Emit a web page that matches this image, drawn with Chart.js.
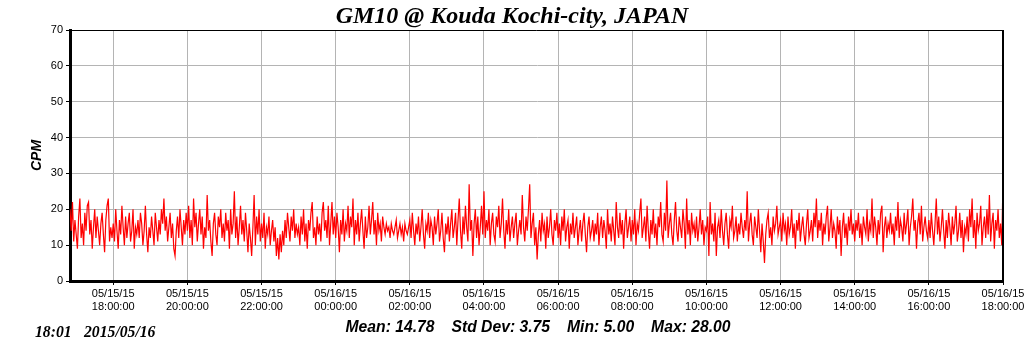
<!DOCTYPE html>
<html>
<head>
<meta charset="utf-8">
<script src="https://cdn.jsdelivr.net/npm/chart.js@4/dist/chart.umd.min.js"></script>
<style>
html,body{margin:0;padding:0;background:#fff;}
#wrap{width:1024px;height:351px;}
</style>
</head>
<body>
<div id="wrap"><canvas id="c" width="1024" height="351"></canvas></div>
<script>
// ---- data (GM10 counts per minute, sampled every 2 minutes from 05/15/15 16:50) ----
const startLabel = "05/15/15 16:50";
const sampleMinutes = 2;
const counts = [
20,14,22,11,17,
13,9,18,23,12,16,10,19,14,21,22,13,17,9,15,20,12,18,14,10,16,19,13,8,17,21,23,11,15,12,
16,11,20,14,9,17,13,21,15,10,18,12,16,19,11,14,20,9,15,13,17,12,19,16,10,14,21,13,8,15,
12,18,14,10,19,15,11,17,13,20,16,23,14,18,11,15,19,12,16,9,7,14,18,12,20,15,10,17,13,19,
14,21,12,17,10,23,15,19,11,16,20,13,18,9,15,12,24,14,17,11,7,16,19,13,10,18,15,20,12,16,
11,19,14,17,9,20,13,16,25,12,18,10,15,21,13,17,11,19,14,8,16,12,7,15,24,10,18,13,20,11,
16,12,19,9,15,13,18,10,14,17,11,15,7,12,6,13,8,14,10,17,12,19,15,11,18,14,20,12,16,13,
15,10,18,13,20,11,16,9,17,14,19,22,12,15,10,18,13,16,11,19,22,14,17,12,21,10,16,22,13,18,
12,19,15,8,17,13,20,11,16,14,21,12,18,15,23,10,17,13,19,11,16,20,14,9,18,12,15,21,13,17,
22,13,17,10,19,14,16,11,18,15,13,16,14,15,12,16,14,13,15,17,12,14,16,13,15,11,16,14,13,15,
17,12,19,14,10,16,13,18,11,15,20,13,9,16,14,19,12,17,15,10,18,13,16,20,11,14,19,12,8,16,
13,18,11,16,20,12,15,19,10,17,23,14,9,18,13,21,15,11,27,14,17,7,16,20,12,18,10,15,21,13,
25,12,17,14,20,10,16,19,13,11,18,15,21,12,16,23,14,9,17,13,20,11,15,18,12,16,19,10,14,17,
13,24,15,11,18,14,20,27,12,16,19,10,15,6,13,17,11,19,14,16,9,18,12,15,20,13,10,17,14,19,
12,16,10,18,14,20,11,15,17,9,16,13,19,12,15,18,10,14,17,11,16,19,13,8,15,18,12,14,17,11,
16,13,19,10,15,18,12,17,14,9,20,13,16,11,18,14,10,22,15,12,19,13,17,9,16,20,12,15,18,11,
17,13,20,10,16,14,19,23,12,15,18,11,21,14,9,17,13,20,12,16,10,18,15,22,13,11,19,14,28,12,
16,19,13,10,17,22,14,11,18,15,12,20,16,9,23,13,17,10,19,14,16,12,18,11,15,20,13,17,10,15,
14,18,7,22,13,16,11,19,7,15,17,12,20,14,10,16,19,13,9,17,15,21,12,14,18,11,16,13,19,15,
12,17,14,25,11,16,19,13,10,18,15,12,20,14,8,16,11,5,13,17,19,12,15,10,18,14,16,21,13,15,
17,11,19,14,16,10,18,13,15,20,12,16,9,17,14,19,11,15,18,13,10,16,20,12,14,17,11,19,15,23,
12,17,14,19,10,16,13,18,21,11,15,20,12,16,14,9,18,13,17,7,15,19,12,16,10,18,14,20,13,16,
11,17,14,19,12,16,10,18,15,13,20,11,16,14,23,12,18,15,10,17,13,19,21,8,15,18,12,16,14,19,
13,16,10,18,14,22,12,17,15,11,19,13,16,20,10,15,18,23,14,17,9,16,19,13,21,11,15,18,14,12,
17,12,19,14,10,16,23,13,18,11,15,20,14,9,17,12,19,15,10,18,13,16,21,11,14,19,12,17,8,15,
13,18,11,20,15,23,12,17,9,19,14,16,21,10,15,18,12,20,13,24,11,16,19,9,17,14,20,12,16,10,
28
];
const tickMinutes = [70,190,310,430,550,670,790,910,1030,1150,1270,1390,1510];
const tickLabels = [
  ["05/15/15","18:00:00"],["05/15/15","20:00:00"],["05/15/15","22:00:00"],
  ["05/16/15","00:00:00"],["05/16/15","02:00:00"],["05/16/15","04:00:00"],
  ["05/16/15","06:00:00"],["05/16/15","08:00:00"],["05/16/15","10:00:00"],
  ["05/16/15","12:00:00"],["05/16/15","14:00:00"],["05/16/15","16:00:00"],
  ["05/16/15","18:00:00"]
];
const yTicks = [0,10,20,30,40,50,60,70];
const titleText = "GM10 @ Kouda Kochi-city, JAPAN";
const yTitle = "CPM";
const statsParts = ["Mean: 14.78","Std Dev: 3.75","Min: 5.00","Max: 28.00"];
const stampParts = ["18:01","2015/05/16"];

const points = counts.map((v,i)=>({x:i*sampleMinutes,y:v}));
const xMax = (counts.length-1)*sampleMinutes;

const textPlugin = {
  id:'texts',
  afterDraw(chart){
    const ctx = chart.ctx, a = chart.chartArea;
    ctx.save();
    // frame top/right
    ctx.strokeStyle='#000';
    ctx.lineWidth=1;
    ctx.beginPath(); ctx.moveTo(a.left, a.top+0.5); ctx.lineTo(a.right, a.top+0.5); ctx.stroke();
    ctx.lineWidth=2;
    ctx.beginPath(); ctx.moveTo(a.right, a.top); ctx.lineTo(a.right, a.bottom); ctx.stroke();
    // title
    ctx.fillStyle='#000';
    ctx.textBaseline='middle';
    ctx.textAlign='center';
    ctx.font='italic bold 24px "Liberation Serif", "DejaVu Serif", serif';
    ctx.fillText(titleText, 512, 17);
    // y title
    ctx.save();
    ctx.translate(37, (a.top+a.bottom)/2);
    ctx.rotate(-Math.PI/2);
    ctx.font='italic bold 14px "Liberation Sans", Arial, sans-serif';
    ctx.fillText(yTitle, 0, 0);
    ctx.restore();
    // stats line
    ctx.font='italic bold 15.7px "Liberation Sans", Arial, sans-serif';
    const gap = 17;
    const widths = statsParts.map(s=>ctx.measureText(s).width);
    const total = widths.reduce((p,c)=>p+c,0)+gap*(statsParts.length-1);
    let x = 538 - total/2;
    ctx.textAlign='left';
    statsParts.forEach((s,i)=>{ ctx.fillText(s, x, 328); x += widths[i]+gap; });
    // timestamp
    ctx.font='italic bold 15.7px "Liberation Serif", "DejaVu Serif", serif';
    ctx.fillText(stampParts[0], 35, 333);
    ctx.fillText(stampParts[1], 84, 333);
    ctx.restore();
  }
};

new Chart(document.getElementById('c'), {
  type:'line',
  data:{ datasets:[{ data:points, borderColor:'#ff0000', borderWidth:1.2, pointRadius:0, tension:0, fill:false }] },
  options:{
    responsive:false, animation:false, devicePixelRatio:1,
    layout:{ padding:{ top:30, right:21, left:0, bottom:0 } },
    plugins:{ legend:{display:false}, tooltip:{enabled:false}, title:{display:false} },
    scales:{
      x:{
        type:'linear', min:0, max:xMax,
        afterFit(s){ s.height = 70; s.paddingLeft = 0; s.paddingRight = 0; },
        afterBuildTicks(s){ s.ticks = tickMinutes.map(v=>({value:v})); },
        ticks:{ autoSkip:false, maxRotation:0, color:'#000', padding:2,
          font:{ family:'"Liberation Sans", Arial, sans-serif', size:11, lineHeight:1.2 },
          callback(v){ const k = tickMinutes.indexOf(v); return k>=0 ? tickLabels[k] : ''; } },
        grid:{ color:'#b4b4b4', lineWidth:1, tickLength:4, tickColor:'#000' },
        border:{ color:'#000', width:3 }
      },
      y:{
        min:0, max:70,
        afterFit(s){ s.width = 70; s.paddingTop = 0; s.paddingBottom = 0; },
        afterBuildTicks(s){ s.ticks = yTicks.map(v=>({value:v})); },
        ticks:{ color:'#000', padding:3,
          font:{ family:'"Liberation Sans", Arial, sans-serif', size:11 } },
        grid:{ color:'#b4b4b4', lineWidth:1, tickLength:4, tickColor:'#000' },
        border:{ color:'#000', width:3 }
      }
    }
  },
  plugins:[textPlugin]
});
</script>
</body>
</html>
